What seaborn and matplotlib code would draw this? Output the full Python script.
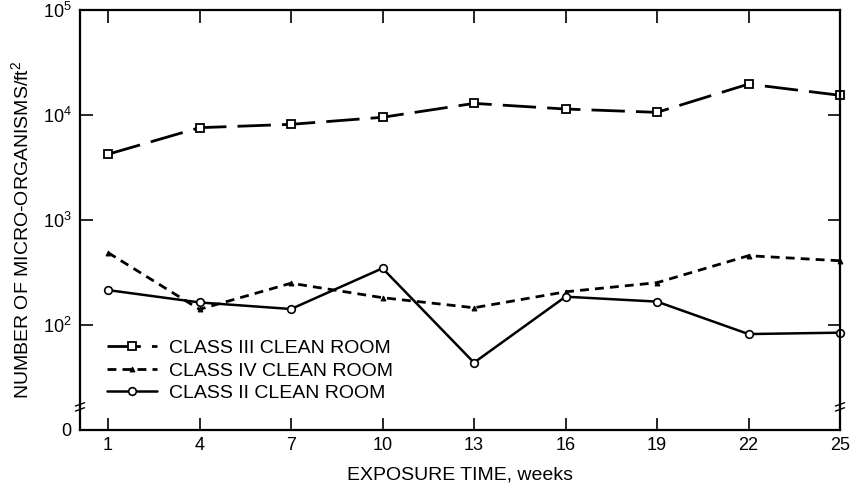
import numpy as np
import pandas as pd
import matplotlib
matplotlib.use("Agg")
import matplotlib.pyplot as plt
import seaborn as sns

weeks = [1, 4, 7, 10, 13, 16, 19, 22, 25]
class_iii = [4230, 7570, 8150, 9510, 12900, 11400, 10600, 19700, 15400]
class_iv = [489, 141, 250, 182, 146, 207, 253, 457, 409]
class_ii = [215, 164, 142, 347, 43.8, 186, 167, 82, 84.5]
labels = ["CLASS III CLEAN ROOM", "CLASS IV CLEAN ROOM", "CLASS II CLEAN ROOM"]
y_ticks = [10, 100, 1000, 10000, 100000]
y_ticklabels = ["0", r"$10^{2}$", r"$10^{3}$", r"$10^{4}$", r"$10^{5}$"]

sns.set_style("ticks")
plt.rcParams['font.family'] = ['Liberation Sans', 'DejaVu Sans']
plt.rcParams['mathtext.fontset'] = 'custom'
plt.rcParams['mathtext.rm'] = 'Liberation Sans'
plt.rcParams['text.color'] = 'black'
plt.rcParams['axes.labelcolor'] = 'black'

fig = plt.figure(figsize=(8.5, 4.84), dpi=100)
ax = fig.add_axes([80/850, 1-430/484, 760/850, 420/484])

df3 = pd.DataFrame({"week": weeks, "value": class_iii})
df4 = pd.DataFrame({"week": weeks, "value": class_iv})
df2 = pd.DataFrame({"week": weeks, "value": class_ii})

sns.lineplot(data=df3, x="week", y="value", ax=ax, color="black", lw=2.0,
             marker="s", markersize=6, markerfacecolor="white", markeredgecolor="black",
             markeredgewidth=1.3, label=labels[0], clip_on=False)
ax.lines[-1].set_dashes([12, 4])
sns.lineplot(data=df4, x="week", y="value", ax=ax, color="black", lw=2.0,
             marker="^", markersize=3.5, markerfacecolor="black", markeredgecolor="black",
             label=labels[1], clip_on=False)
ax.lines[-1].set_dashes([3.2, 2.2])
sns.lineplot(data=df2, x="week", y="value", ax=ax, color="black", lw=1.8,
             marker="o", markersize=5.5, markerfacecolor="white", markeredgecolor="black",
             markeredgewidth=1.2, label=labels[2], clip_on=False)

ax.set_yscale("log")
ax.set_ylim(10, 100000)
ax.set_xlim(1 - 28/30.5, 25)
ax.set_yticks(y_ticks)
ax.set_yticklabels(y_ticklabels)
ax.yaxis.set_minor_locator(matplotlib.ticker.NullLocator())
ax.set_xticks(weeks)
ax.set_xticklabels([str(w) for w in weeks])

ax.tick_params(axis="both", which="major", direction="in", length=9, width=1.2,
               labelsize=13, colors="black", labelcolor="black", top=True, right=True)
ax.tick_params(axis="x", pad=5)
ax.tick_params(axis="y", pad=6)
for s in ax.spines.values():
    s.set_linewidth(1.6)
    s.set_color("black")

ax.set_xlabel("EXPOSURE TIME, weeks", fontsize=14, labelpad=9, color="black")
ax.set_ylabel(r"NUMBER OF MICRO-ORGANISMS/ft$^{2}$", fontsize=14, color="black")
ax.yaxis.set_label_coords(-0.062, 0.476)

# axis break marks
for xa in (0.0, 1.0):
    for dy in (0.0, 0.012):
        ax.plot([xa - 0.006, xa + 0.006], [0.045 + dy, 0.053 + dy], transform=ax.transAxes,
                color="black", lw=1.0, clip_on=False)

leg = ax.legend(loc="lower left", bbox_to_anchor=(0.025, 0.048), frameon=False,
                fontsize=14, handlelength=2.6, labelspacing=0.25, handletextpad=0.6,
                borderaxespad=0)
for t in leg.get_texts():
    t.set_color("black")

fig.savefig("out.png", dpi=100)
